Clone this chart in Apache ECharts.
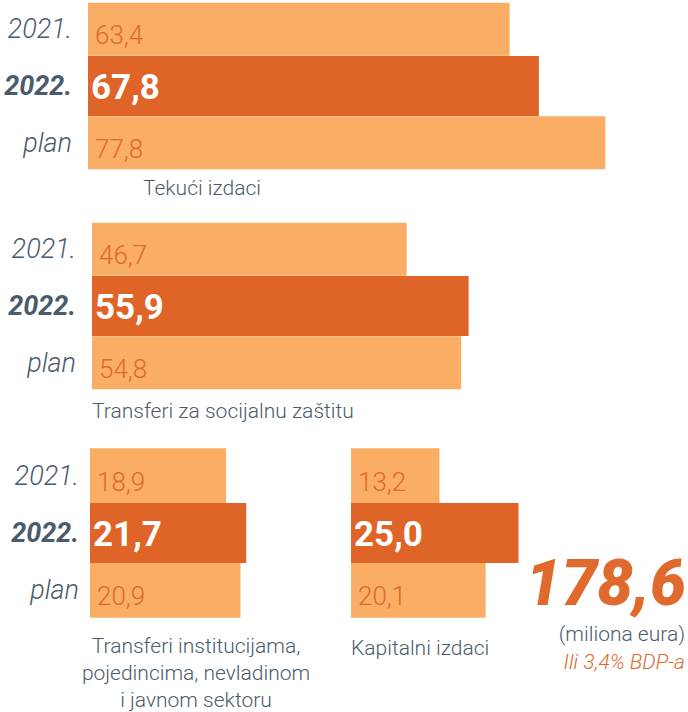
<!DOCTYPE html>
<html>
<head>
<meta charset="utf-8">
<script src="https://cdn.jsdelivr.net/npm/echarts@6/dist/echarts.min.js"></script>
<style>
  html, body { margin: 0; padding: 0; background: #fff; }
  #chart { width: 688px; height: 712px; }
</style>
</head>
<body>
<div id="chart"></div>
<script>
// podaci (miliona eura)
var godine = ['2021.', '2022.', 'plan']
var tekuciIzdaci = [63.4, 67.8, 77.8]
var socijalnaZastita = [46.7, 55.9, 54.8]
var transferiInstitucijama = [18.9, 21.7, 20.9]
var kapitalniIzdaci = [13.2, 25.0, 20.1]
var nazivi = [
    'Tekući izdaci',
    'Transferi za socijalnu zaštitu',
    'Transferi institucijama,\npojedincima, nevladinom\ni javnom sektoru',
    'Kapitalni izdaci'
]
var ukupno = '178,6'
var jedinica = '(miliona eura)'
var udioBdp = 'Ili 3,4% BDP-a'

// boje
var svijetla = '#f9ad65'
var tamna = '#de6427'
var narandzasta = '#e0692d'
var siva = '#4a5b6c'
var font = 'Roboto, sans-serif'

var panels = [
    { values: tekuciIzdaci, grid: { left: 88, top: 1, width: 532, height: 170 }, max: 80, labels: true, margin: 16, light: 53 },
    { values: socijalnaZastita, grid: { left: 92, top: 221, width: 539, height: 170 }, max: 80, labels: true, margin: 16, light: 53 },
    { values: transferiInstitucijama, grid: { left: 90, top: 447, width: 216, height: 172 }, max: 30, labels: true, margin: 11, light: 55 },
    { values: kapitalniIzdaci, grid: { left: 351, top: 447, width: 201, height: 172 }, max: 30, labels: false, margin: 11, light: 55 }
]

function fmt(p) {
    return p.value.toFixed(1).replace('.', ',')
}

var grids = [], xAxes = [], yAxes = [], series = []
panels.forEach(function (p, i) {
    grids.push(p.grid)
    xAxes.push({ type: 'value', gridIndex: i, min: 0, max: p.max, show: false })
    yAxes.push({
        type: 'category', gridIndex: i, data: godine, inverse: true,
        axisLine: { show: false }, axisTick: { show: false }, splitLine: { show: false },
        axisLabel: {
            show: p.labels,
            margin: p.margin,
            formatter: function (v, idx) {
                return idx === 1 ? '{b|' + v + '}' : '{a|' + v + '}'
            },
            rich: {
                a: { fontFamily: font, fontStyle: 'italic', fontWeight: 300, fontSize: 27, color: siva },
                b: { fontFamily: font, fontStyle: 'italic', fontWeight: 'bold', fontSize: 27, color: siva }
            }
        }
    })
    yAxes.push({ type: 'category', gridIndex: i, data: godine, inverse: true, show: false })
    series.push({
        type: 'bar',
        xAxisIndex: i,
        yAxisIndex: i * 2,
        barWidth: p.light,
        z: 2,
        itemStyle: { color: svijetla },
        label: {
            show: true, position: 'insideLeft', distance: 7, offset: [0, 6],
            formatter: fmt, color: narandzasta, fontFamily: font, fontWeight: 300, fontSize: 26
        },
        data: [p.values[0], '-', p.values[2]]
    })
    series.push({
        type: 'bar',
        xAxisIndex: i,
        yAxisIndex: i * 2 + 1,
        barWidth: 60,
        z: 3,
        itemStyle: { color: tamna },
        label: {
            show: true, position: 'insideLeft', distance: 3, offset: [0, 1],
            formatter: fmt, color: '#fff', fontFamily: font, fontWeight: 'bold', fontSize: 35
        },
        data: ['-', p.values[1], '-']
    })
})

var tekst = { fontFamily: font, fontWeight: 300, fontSize: 21, fill: siva }

var option = {
    backgroundColor: '#fff',
    animation: false,
    grid: grids,
    xAxis: xAxes,
    yAxis: yAxes,
    series: series,
    graphic: [
        { type: 'text', x: 202, y: 188, style: Object.assign({ text: nazivi[0], align: 'center', verticalAlign: 'middle' }, tekst) },
        { type: 'text', x: 92, y: 411, style: Object.assign({ text: nazivi[1], align: 'left', verticalAlign: 'middle' }, tekst) },
        { type: 'text', x: 196, y: 632, style: Object.assign({ text: nazivi[2], align: 'center', verticalAlign: 'top', lineHeight: 27 }, tekst) },
        { type: 'text', x: 351, y: 648, style: Object.assign({ text: nazivi[3], align: 'left', verticalAlign: 'middle' }, tekst) },
        { type: 'text', x: 686, y: 583, style: { text: ukupno, align: 'right', verticalAlign: 'middle', fontFamily: font, fontStyle: 'italic', fontWeight: 900, fontSize: 64, fill: narandzasta } },
        { type: 'text', x: 685, y: 634, style: Object.assign({ text: jedinica, align: 'right', verticalAlign: 'middle' }, tekst) },
        { type: 'text', x: 685, y: 662, style: { text: udioBdp, align: 'right', verticalAlign: 'middle', fontFamily: font, fontStyle: 'italic', fontWeight: 300, fontSize: 21, fill: narandzasta } }
    ]
}

var chart = echarts.init(document.getElementById('chart'), null, { renderer: 'svg' })
chart.setOption(option)
</script>
</body>
</html>
